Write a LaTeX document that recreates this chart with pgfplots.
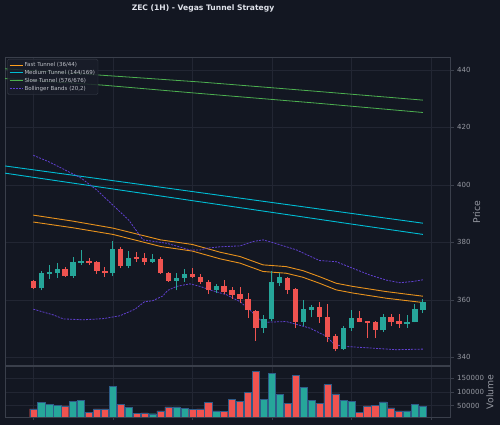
\documentclass[border=0pt]{standalone}
\usepackage{fontspec}
\setmainfont{DejaVu Sans}
\usepackage{pgfplots}
\usepackage{pgfplotstable}
\pgfplotsset{compat=1.18}

\definecolor{bg}{HTML}{131722}
\definecolor{spine}{HTML}{3A3F4B}
\definecolor{gridc}{HTML}{222633}
\definecolor{tickc}{HTML}{9598A1}
\definecolor{titlec}{HTML}{E0E3EB}
\definecolor{upc}{HTML}{26A69A}
\definecolor{downc}{HTML}{EF5350}
\definecolor{fastc}{HTML}{FF9F1C}
\definecolor{medc}{HTML}{00BCD4}
\definecolor{slowc}{HTML}{4CAF50}
\definecolor{bbc}{HTML}{6040D0}
\definecolor{legbg}{HTML}{1A1E2A}
\definecolor{baredge}{HTML}{2E5B88}

% hourly candles: index, open, high, low, close, volume
\pgfplotstableread{
i  o      h      l      c      v
1  364.0  369.9  363.3  369.3  61000
2  369.0  372.2  367.2  369.8  55000
3  369.4  372.8  367.8  370.8  51000
5  368.4  375.1  367.6  373.1  65000
6  372.9  377.4  372.1  373.6  68000
10 369.3  380.5  368.4  377.6  121000
12 371.9  377.0  371.0  374.7  44000
15 373.2  375.9  373.0  374.3  20000
18 366.6  369.3  363.3  367.8  45000
19 367.8  370.7  366.3  369.0  40000
23 363.3  365.6  362.4  364.9  30000
29 350.4  354.6  348.5  353.4  72000
30 353.3  369.9  352.7  366.2  167000
31 365.8  369.3  365.0  367.9  91000
34 352.3  360.0  351.0  356.9  116000
35 356.6  358.1  353.9  357.5  70000
39 342.9  350.8  342.7  350.4  70000
40 350.2  356.6  349.3  353.7  66000
44 349.4  355.1  349.0  353.9  63000
47 351.6  354.6  350.4  352.5  30000
48 352.3  358.6  352.2  356.8  54000
49 356.6  360.4  355.4  359.2  48000
}\upcandles

\pgfplotstableread{
i  o      h      l      c      v
0  366.6  367.0  363.7  364.1  38000
4  370.8  371.6  367.9  368.4  49000
7  373.6  374.5  372.2  372.9  24000
8  373.1  373.6  369.0  370.1  38000
9  370.2  371.4  368.0  369.3  38000
11 377.6  378.5  371.0  371.9  54000
13 375.1  376.6  373.2  374.3  21000
14 374.7  376.4  372.2  373.2  23000
16 374.4  374.9  369.0  369.3  30000
17 369.3  369.8  366.3  366.6  45000
20 369.0  371.0  367.6  367.9  35000
21 368.1  369.0  365.5  366.2  38000
22 366.4  367.0  362.0  363.3  62000
24 364.9  367.0  362.0  362.9  28000
25 363.3  364.4  360.3  361.7  72000
26 362.1  364.4  359.1  360.4  65000
27 360.4  362.4  353.7  356.6  98000
28 356.0  356.6  345.8  350.4  176000
32 367.8  368.1  362.0  363.5  57000
33 363.8  364.1  350.2  352.3  161000
36 357.7  359.4  351.9  354.0  59000
37 354.0  358.5  345.2  347.1  127000
38 347.3  348.2  342.1  342.9  93000
41 353.7  356.3  352.3  352.5  26000
42 352.7  352.8  346.9  351.9  49000
43 352.2  352.8  346.7  349.6  51000
45 353.9  355.1  350.8  352.5  41000
46 352.8  355.1  350.4  351.6  30000
}\downcandles

\begin{document}
\begin{tikzpicture}[x=1pt,y=1pt]
\useasboundingbox (0,0) rectangle (500,425);
\fill[bg] (0,0) rectangle (500,425);

\node[font=\bfseries\fontsize{7.6}{9}\selectfont, text=titlec] at (203,417) {ZEC (1H) - Vegas Tunnel Strategy};

% ---------------- price panel ----------------
\begin{axis}[
  at={(5pt,59.5pt)}, anchor=south west,
  width=445.7pt, height=308.5pt, scale only axis,
  xmin=-3.56, xmax=52.5, ymin=337.2, ymax=444.5,
  axis background/.style={fill=bg},
  axis line style={draw=spine, line width=0.7pt},
  xtick={0,10,...,50}, xticklabels={}, xtick style={draw=none},
  ytick={340,360,...,440}, ytick pos=right, yticklabel pos=right,
  tick align=outside, major tick length=3pt,
  ytick style={draw=spine, line width=0.6pt},
  grid=major, grid style={draw=gridc, line width=0.5pt},
  /pgf/number format/assume math mode=true,
  yticklabel style={font=\fontsize{7}{8}\selectfont, text=tickc, xshift=0pt},
  legend image code/.code={\draw[#1] (0pt,0pt) -- (13pt,0pt);},
  legend cell align=left,
  legend style={at={(0,1)}, anchor=north west, xshift=2.3pt, yshift=-2pt,
    fill=legbg, fill opacity=0.85, text opacity=1, draw=spine,
    rounded corners=1.5pt, text=titlec!85!black,
    font=\fontsize{5.5}{6.5}\selectfont, inner sep=1.6pt,
    row sep=-0.6pt, nodes={inner sep=1.4pt}},
]
\addlegendimage{draw=fastc, line width=1pt}
\addlegendentry{Fast Tunnel (36/44)}
\addlegendimage{draw=medc, line width=1pt}
\addlegendentry{Medium Tunnel (144/169)}
\addlegendimage{draw=slowc, line width=1pt}
\addlegendentry{Slow Tunnel (576/676)}
\addlegendimage{draw=bbc, line width=0.8pt, dash pattern=on 2pt off 1.2pt}
\addlegendentry{Bollinger Bands (20,2)}

% slow tunnel
\addplot[slowc, line width=0.8pt, forget plot] coordinates
  {(-3.56,440.4) (8.4,438.2) (21,435.8) (35,432.7) (49,429.5)};
\addplot[slowc, line width=0.8pt, forget plot] coordinates
  {(-3.56,437.0) (8.8,434.7) (21,431.8) (35,428.6) (49,425.2)};
% medium tunnel
\addplot[medc, line width=0.9pt, forget plot] coordinates
  {(-3.56,406.6) (10,401.5) (25,395.8) (40,390.1) (49,386.7)};
\addplot[medc, line width=0.9pt, forget plot] coordinates
  {(-3.56,404.1) (10,398.6) (25,392.5) (40,386.4) (49,382.8)};
% fast tunnel
\addplot[fastc, line width=0.9pt, opacity=0.9, forget plot] coordinates
  {(0,389.5) (5,387.4) (10,385.0) (16,380.9) (20,379.3) (23.5,376.6) (26,375.1)
   (28.9,372.2) (31.8,371.6) (33.9,370.2) (36,368.1) (38.1,365.8) (40.2,364.7)
   (44.4,362.9) (49,361.3)};
\addplot[fastc, line width=0.9pt, opacity=0.9, forget plot] coordinates
  {(0,387.1) (5,385.1) (10,382.8) (16,378.6) (20,377.0) (23.5,374.3) (26,372.8)
   (28.9,369.9) (31.8,369.3) (33.9,367.9) (36,365.8) (38.1,363.5) (40.2,362.4)
   (44.4,360.6) (49,359.1)};
% bollinger bands
\addplot[bbc, line width=0.8pt, dash pattern=on 2pt off 1.2pt, forget plot] coordinates
  {(0,410.3) (2,408.0) (4,405.2) (6,402.4) (8,398.2) (10,393.0) (12,387.8)
   (13.8,380.9) (16.8,379.7) (19.7,377.4) (21,377.4) (21.8,378.0) (23.5,378.5)
   (26,378.8) (27.6,380.3) (28.9,380.9) (30.2,379.9) (33.1,377.4) (36,373.7)
   (38.1,373.3) (40.2,371.0) (42.3,368.7) (44.4,366.9) (46.1,366.0) (47.7,366.4)
   (49,367.0)};
\addplot[bbc, line width=0.8pt, dash pattern=on 2pt off 1.2pt, forget plot] coordinates
  {(0,356.8) (2.5,354.8) (3.8,353.4) (6.3,353.1) (8.8,353.5) (10.9,354.5)
   (12.8,356.8) (14,359.4) (15,359.7) (16.3,361.4) (16.9,363.3) (18,364.7)
   (19.7,365.6) (21,364.7) (22.2,363.5) (24.3,361.8) (26,359.4) (27.2,356.6)
   (28.1,354.2) (28.9,352.2) (31.8,352.5) (34.8,350.2) (36.9,347.3) (37.9,344.4)
   (39.4,343.8) (42.3,343.3) (45.6,342.7) (49,342.9)};

% wicks
\addplot[draw=none, no markers, forget plot,
  error bars/.cd, y dir=plus, y explicit, error mark=none,
  error bar style={draw=upc, line width=0.9pt, solid}]
  table[x=i, y=l, y error plus expr=\thisrow{h}-\thisrow{l}] {\upcandles};
\addplot[draw=none, no markers, forget plot,
  error bars/.cd, y dir=plus, y explicit, error mark=none,
  error bar style={draw=downc, line width=0.9pt, solid}]
  table[x=i, y=l, y error plus expr=\thisrow{h}-\thisrow{l}] {\downcandles};
% bodies
\addplot[draw=none, no markers, forget plot,
  error bars/.cd, y dir=plus, y explicit, error mark=none,
  error bar style={draw=upc, line width=5.3pt, solid, line cap=butt}]
  table[x=i, y=o, y error plus expr=\thisrow{c}-\thisrow{o}] {\upcandles};
\addplot[draw=none, no markers, forget plot,
  error bars/.cd, y dir=plus, y explicit, error mark=none,
  error bar style={draw=downc, line width=5.3pt, solid, line cap=butt}]
  table[x=i, y=c, y error plus expr=\thisrow{o}-\thisrow{c}] {\downcandles};
\end{axis}

% ---------------- volume panel ----------------
\begin{axis}[
  at={(5pt,8pt)}, anchor=south west,
  width=445.7pt, height=51pt, scale only axis,
  xmin=-3.56, xmax=52.5, ymin=8000, ymax=195000,
  axis background/.style={fill=bg},
  axis line style={draw=spine, line width=0.7pt},
  xtick={0,10,...,50}, xticklabels={}, xtick pos=bottom,
  ytick={50000,100000,150000}, ytick pos=right, yticklabel pos=right,
  scaled y ticks=false,
  yticklabel style={font=\fontsize{7}{8}\selectfont, text=tickc,
    /pgf/number format/fixed, /pgf/number format/1000 sep={}},
  /pgf/number format/assume math mode=true,
  tick align=outside, major tick length=3pt,
  tick style={draw=spine, line width=0.6pt},
  grid=major, grid style={draw=gridc, line width=0.5pt},
]
\addplot[ybar, bar width=7.2pt, bar shift=0pt, fill=upc, draw=baredge, line width=0.4pt]
  table[x=i, y=v] {\upcandles};
\addplot[ybar, bar width=7.2pt, bar shift=0pt, fill=downc, draw=baredge, line width=0.4pt]
  table[x=i, y=v] {\downcandles};
\end{axis}

\node[rotate=90, font=\fontsize{9.3}{11}\selectfont, text=tickc] at (476.7,213) {Price};
\node[rotate=90, font=\fontsize{9.3}{11}\selectfont, text=tickc] at (490,33) {Volume};
\end{tikzpicture}
\end{document}
